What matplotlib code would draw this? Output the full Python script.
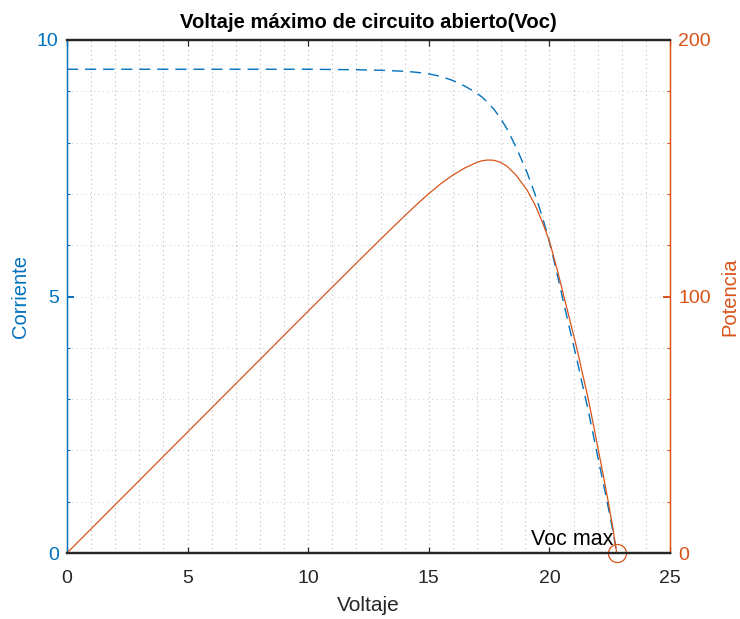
import matplotlib
matplotlib.use("Agg")
import matplotlib.pyplot as plt
from matplotlib.ticker import MultipleLocator

plt.rcParams["font.family"] = ["Liberation Sans", "DejaVu Sans"]

# ---------------------------------------------------------------------------
# Data (I-V and P-V curves of the panel)
# ---------------------------------------------------------------------------
voltaje = [0, 5, 10, 12, 13, 14, 14.5, 15, 15.5, 16.0, 16.5, 17.0, 17.2,
           17.43, 17.7, 17.95, 18.25, 18.64, 19.08, 19.40, 19.68, 19.95,
           20.09, 20.35, 20.58, 20.85, 21.13, 21.37, 21.61, 21.82, 22.03,
           22.24, 22.44, 22.62, 22.79]
corriente = [9.43, 9.43, 9.43, 9.42, 9.41, 9.39, 9.37, 9.34, 9.29, 9.21,
             9.10, 8.96, 8.89, 8.79, 8.65, 8.49, 8.26, 7.89, 7.41, 7.00,
             6.59, 6.16, 5.90, 5.38, 4.90, 4.35, 3.79, 3.28, 2.78, 2.30,
             1.82, 1.35, 0.89, 0.46, 0.00]
potencia = [0, 47.15, 94.3, 113.04, 122.33, 131.46, 135.87, 140.1, 144.0,
            147.36, 150.15, 152.32, 152.91, 153.21, 153.11, 152.40, 150.75,
            147.07, 141.38, 135.8, 129.69, 122.89, 118.53, 109.48, 100.84,
            90.70, 80.08, 70.09, 60.08, 50.19, 40.09, 30.02, 19.97, 10.41, 0]
voc_max = 22.82

BLUE = "#0072BD"
ORANGE = "#D95319"
DARK = "#262626"

fig = plt.figure(figsize=(7.4, 6.19), dpi=100)
ax = fig.add_axes([67 / 740, 1 - 553 / 619, 603 / 740, 513 / 619])
ax2 = ax.twinx()

# current (left axis)
ax.plot(voltaje, corriente, color=BLUE, lw=1.0, dashes=(8, 5))
ax.set_xlim(0, 25)
ax.set_ylim(0, 10)
ax.xaxis.set_major_locator(MultipleLocator(5))
ax.xaxis.set_minor_locator(MultipleLocator(1))
ax.yaxis.set_major_locator(MultipleLocator(5))
ax.yaxis.set_minor_locator(MultipleLocator(1))

# grids: vertical gray, horizontal light blue
ax.grid(False)
ax.xaxis.grid(True, which="both", color=DARK, alpha=0.3, lw=0.8,
              linestyle=(0, (1, 3)))
ax.yaxis.grid(True, which="both", color=BLUE, alpha=0.25, lw=0.8,
              linestyle=(0, (1, 3)))
ax.set_axisbelow(True)

# power (right axis)
ax2.plot(voltaje, potencia, color=ORANGE, lw=0.9)
ax2.plot([voc_max], [0], marker="o", ms=13, mfc="none", mec=ORANGE, mew=0.9,
         clip_on=False)
ax2.text(22.64, 1.2, "Voc max", ha="right", va="bottom", fontsize=15.5,
         color="black")
ax2.set_ylim(0, 200)
ax2.yaxis.set_major_locator(MultipleLocator(100))
ax2.yaxis.set_minor_locator(MultipleLocator(20))

# spines
for a in (ax, ax2):
    a.spines["top"].set_color(DARK)
    a.spines["bottom"].set_color(DARK)
    a.spines["top"].set_linewidth(1.6)
    a.spines["bottom"].set_linewidth(1.6)
    a.spines["left"].set_color(BLUE)
    a.spines["right"].set_color(ORANGE)
    a.spines["left"].set_linewidth(0.9)
    a.spines["right"].set_linewidth(0.9)

# ticks
ax.tick_params(axis="x", which="major", direction="in", top=True, bottom=True,
               length=4.5, width=0.9, colors=DARK, labelsize=14, pad=12)
ax.tick_params(axis="x", which="minor", length=0)
ax.tick_params(axis="y", which="major", direction="in", left=True, right=False,
               length=5, width=1.4, colors=BLUE, labelsize=14, pad=6)
ax.tick_params(axis="y", which="minor", direction="in", length=2.5, width=0.8,
               colors=BLUE)
ax2.tick_params(axis="y", which="major", direction="in", right=True, left=False,
                length=5, width=1.4, colors=ORANGE, labelsize=14, pad=6)
ax2.tick_params(axis="y", which="minor", direction="in", length=2.5, width=0.8,
                colors=ORANGE)

ax.set_xlabel("Voltaje", fontsize=15, color=DARK, labelpad=7)
ax.set_ylabel("Corriente", fontsize=14.5, color=BLUE, labelpad=5)
ax2.set_ylabel("Potencia", fontsize=14.5, color=ORANGE, labelpad=7)
ax.set_title("Voltaje máximo de circuito abierto(Voc)", fontsize=14.6,
             fontweight="bold", color="black", pad=9)

plt.savefig("out.png", dpi=100)
plt.close()
